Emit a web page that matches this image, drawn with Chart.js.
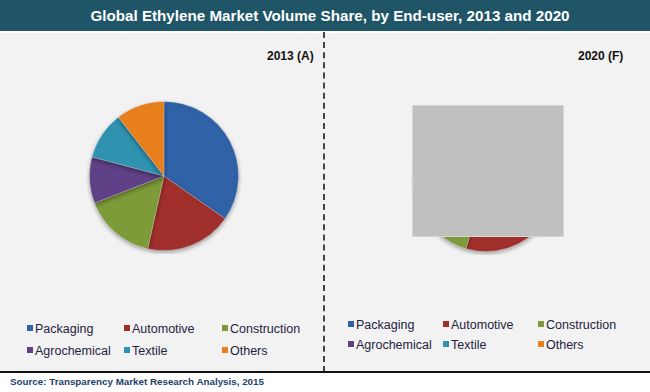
<!DOCTYPE html>
<html>
<head>
<meta charset="utf-8">
<script src="https://cdn.jsdelivr.net/npm/chart.js@4"></script>
<style>
  body { margin: 0; width: 650px; height: 392px; position: relative; overflow: hidden; background: #fff; font-family: "Liberation Sans", Arial, sans-serif; }
  #title { position: absolute; left: 0; top: 0; width: 650px; height: 31px; background: #1f5566; color: #fff; font-weight: bold; font-size: 15.2px; line-height: 31px; text-align: center; text-indent: 10px; }
  #panel { position: absolute; left: 0; top: 33px; width: 650px; height: 338px; background: #f2f2f2; }
  #bottomline { position: absolute; left: 0; top: 371px; width: 650px; height: 2px; background: #111; }
  #divider { position: absolute; left: 323px; top: 32px; height: 340px; width: 0; border-left: 2px dashed #444; }
  .year { position: absolute; top: 49px; font-weight: bold; font-size: 12px; color: #111; }
  canvas { position: absolute; }
  #cover { position: absolute; left: 412px; top: 105px; width: 150px; height: 130px; background: #c0c0c0; border: 1px solid #d4d4d4; }
  .legend { position: absolute; display: grid; font-size: 12.5px; color: #1f2340; }
  .legend div { white-space: nowrap; }
  .legend span { display: inline-block; width: 6px; height: 6px; margin-right: 2px; vertical-align: 2px; }
  #source { position: absolute; left: 10px; top: 376px; font-size: 9.8px; font-weight: bold; color: #243f6a; }
</style>
</head>
<body>
<div id="title">Global Ethylene Market Volume Share, by End-user, 2013 and 2020</div>
<div id="panel"></div>
<div id="divider"></div>
<div id="bottomline"></div>
<div class="year" style="left:267px">2013 (A)</div>
<div class="year" style="left:578px">2020 (F)</div>
<canvas id="pie2013" width="156" height="156" style="left:86px;top:98px"></canvas>
<canvas id="pie2020" width="150" height="150" style="left:411px;top:105px"></canvas>
<div id="cover"></div>
<div class="legend" id="legend2013" style="left:27px;top:322px;grid-template-columns:97px 98px 100px;row-gap:8px"></div>
<div class="legend" id="legend2020" style="left:348px;top:318px;grid-template-columns:95px 95px 100px;row-gap:6px"></div>
<div id="source">Source: Transparency Market Research Analysis, 2015</div>
<script>
const labels = ["Packaging", "Automotive", "Construction", "Agrochemical", "Textile", "Others"];
const share2013 = [34.7, 18.8, 15.6, 10.0, 10.4, 10.5];
const share2020 = [35.5, 19.0, 15.2, 10.0, 10.1, 10.2];
const colors = ["#2f62a6", "#a1302c", "#7d9b38", "#604187", "#2f93b0", "#e8801e"];

const shadow = {
  id: "shadow",
  beforeDatasetsDraw(chart) {
    const c = chart.ctx;
    c.save();
    c.shadowColor = "rgba(0,0,0,0.35)";
    c.shadowBlur = 4;
    c.shadowOffsetY = 2;
  },
  afterDatasetsDraw(chart) {
    chart.ctx.restore();
  },
};

function makePie(id, values) {
  new Chart(document.getElementById(id), {
    type: "pie",
    data: {
      labels: labels,
      datasets: [
        {
          data: values,
          backgroundColor: colors,
          borderColor: "rgba(255,255,255,0.25)",
          borderWidth: 1,
        },
      ],
    },
    options: {
      responsive: false,
      animation: false,
      layout: { padding: 3 },
      plugins: { legend: { display: false }, tooltip: { enabled: false } },
    },
    plugins: [shadow],
  });
}

makePie("pie2013", share2013);
makePie("pie2020", share2020);

function makeLegend(id) {
  const box = document.getElementById(id);
  labels.forEach((name, i) => {
    const item = document.createElement("div");
    item.innerHTML = '<span style="background:' + colors[i] + '"></span>' + name;
    box.appendChild(item);
  });
}
makeLegend("legend2013");
makeLegend("legend2020");
</script>
</body>
</html>
